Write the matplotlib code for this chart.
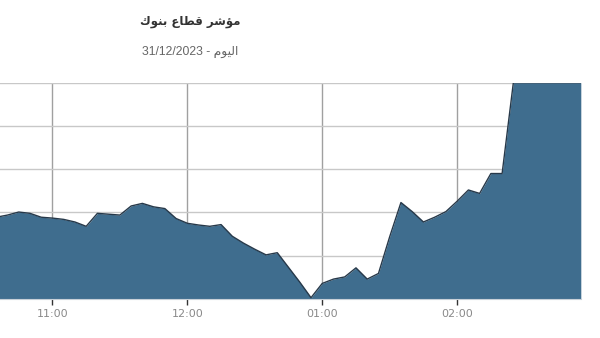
"""Banks sector index, intraday area chart."""

import matplotlib

matplotlib.use("Agg")
import matplotlib.pyplot as plt
import pandas as pd

# Title strings already in visual (left-to-right) order with shaped Arabic forms
TITLE = "\uFED9\uFEEE\uFEE8\uFE91 \uFEC9\uFE8E\uFEC4\uFED7 \uFEAE\uFEB7\uFE86\uFEE3"  # مؤشر قطاع بنوك
SUBTITLE = "31/12/2023 - \uFEE1\uFEEE\uFEF4\uFEDF\uFE8D"  # اليوم - 31/12/2023

# 5-minute readings (grid units)
times = pd.date_range("2023-12-31 10:35", "2023-12-31 14:55", freq="5min")
values = [
    1.89, 1.94, 2.01, 1.98, 1.89, 1.87, 1.84, 1.78, 1.68, 1.98,
    1.96, 1.94, 2.15, 2.21, 2.13, 2.09, 1.86, 1.75, 1.71, 1.68,
    1.72, 1.45, 1.29, 1.15, 1.02, 1.07, 0.73, 0.39, 0.03, 0.36,
    0.46, 0.51, 0.72, 0.46, 0.59, 1.44, 2.23, 2.02, 1.78, 1.89,
    2.02, 2.26, 2.52, 2.44, 2.90, 2.90, 5.00, 5.00, 5.00, 5.00,
    5.00, 5.00, 5.00,
]
tick_times = pd.to_datetime(["2023-12-31 11:00", "2023-12-31 12:00",
                             "2023-12-31 13:00", "2023-12-31 14:00"])
tick_labels = ["11:00", "12:00", "01:00", "02:00"]

fig = plt.figure(figsize=(6.0, 3.38), dpi=100)
ax = fig.add_axes([0.0, 0.1154, 0.968, 0.64])

ax.fill_between(times, values, 0, color="#3f6d8e", zorder=2, linewidth=0)
ax.plot(times, values, color="#27394a", linewidth=1.0, zorder=3)

# Left edge of the crop sits a bit after the first reading
ax.set_xlim(pd.Timestamp("2023-12-31 10:36:40"), times[-1])
ax.set_ylim(0, 5)

ax.set_yticks(range(0, 6))
ax.set_yticklabels([])
ax.tick_params(axis="y", length=0)
ax.grid(axis="y", color="#c8c8c8", linewidth=1.0, zorder=1)

ax.set_xticks(tick_times)
ax.set_xticklabels(tick_labels)
ax.grid(axis="x", color="#a0a0a0", linewidth=1.0, zorder=1)
ax.tick_params(axis="x", length=4, width=1, color="#333333",
               labelsize=8, labelcolor="#8a8a8a", pad=3)

for side in ("left", "right", "top"):
    ax.spines[side].set_visible(False)
ax.spines["bottom"].set_color("#c8d0d8")

fig.text(0.317, 0.936, TITLE, ha="center", va="center", fontsize=8.5,
         fontweight="bold", color="#333333",
         family=["DejaVu Sans"])
fig.text(0.317, 0.845, SUBTITLE, ha="center", va="center", fontsize=8.8,
         color="#666666", family=["Liberation Sans", "DejaVu Sans"])

fig.savefig("out.png", dpi=100)
